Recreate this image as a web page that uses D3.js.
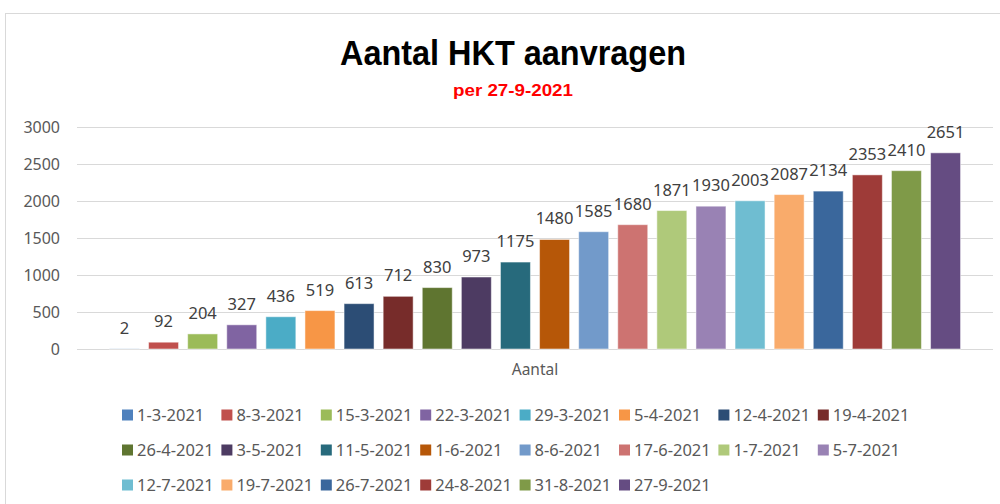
<!DOCTYPE html>
<html><head><meta charset="utf-8">
<script src="https://cdn.jsdelivr.net/npm/d3@7"></script>
<style>html,body{margin:0;padding:0;background:#fff;overflow:hidden}</style>
</head><body>
<svg id="c" width="1000" height="504"></svg>
<script>
const categories = ["Aantal"];
const seriesNames = ["1-3-2021","8-3-2021","15-3-2021","22-3-2021","29-3-2021","5-4-2021","12-4-2021","19-4-2021",
  "26-4-2021","3-5-2021","11-5-2021","1-6-2021","8-6-2021","17-6-2021","1-7-2021","5-7-2021",
  "12-7-2021","19-7-2021","26-7-2021","24-8-2021","31-8-2021","27-9-2021"];
const seriesValues = [2,92,204,327,436,519,613,712,830,973,1175,1480,1585,1680,1871,1930,2003,2087,2134,2353,2410,2651];
const seriesColors = ["#4F81BD","#C0504D","#9BBB59","#8064A2","#4BACC6","#F79646","#2C4D75","#772C2A",
  "#5F7530","#4D3B62","#276A7C","#B65708","#729ACA","#CD7371","#AFC97A","#9982B4",
  "#6FBDD1","#F9AB6B","#3A679C","#9E3B38","#7F9A48","#654C82"];
const yTicks = [0,500,1000,1500,2000,2500,3000];
const titleText = "Aantal HKT aanvragen";
const subtitleText = "per 27-9-2021";

const svg = d3.select("#c");
const font = "'Noto Sans', 'Open Sans', sans-serif";
const narrow = "'Liberation Sans Narrow', 'Liberation Sans', sans-serif";

// chart frame
svg.append("rect").attr("x",5.5).attr("y",13.5).attr("width",1000).attr("height",600)
  .attr("fill","#fff").attr("stroke","#d9d9d9");

// title
const t = svg.append("text").attr("x",513).attr("y",65).attr("text-anchor","middle")
  .attr("font-family",narrow).attr("font-weight","bold").attr("font-size",35).attr("fill","#000").text(titleText);
const tw = t.node().getComputedTextLength();
if (Math.abs(tw-346) > 10) t.attr("textLength",346).attr("lengthAdjust","spacingAndGlyphs");
const s = svg.append("text").attr("x",513).attr("y",96).attr("text-anchor","middle")
  .attr("font-family",narrow).attr("font-weight","bold").attr("font-size",17).attr("fill","#FF0000").text(subtitleText);
const sw = s.node().getComputedTextLength();
if (Math.abs(sw-120) > 5) s.attr("textLength",120).attr("lengthAdjust","spacingAndGlyphs");

const y = d3.scaleLinear().domain([0,3000]).range([349,127]);
const xCat = d3.scaleBand().domain(categories).range([77,993]);
const x = d3.scaleBand().domain(seriesNames).range([xCat(categories[0]), xCat(categories[0])+xCat.bandwidth()])
  .paddingInner(0.233).paddingOuter(0.83);

// gridlines
svg.append("g").selectAll("line").data(yTicks).join("line")
  .attr("x1",77).attr("x2",993).attr("y1",d=>Math.round(y(d))+0.5).attr("y2",d=>Math.round(y(d))+0.5)
  .attr("stroke","#d9d9d9").attr("stroke-width",1);

// y axis
const yAxis = d3.axisLeft(y).tickValues(yTicks).tickFormat(d3.format("d")).tickSize(0).tickPadding(0);
const ga = svg.append("g").attr("transform","translate(60,0)").call(yAxis);
ga.select(".domain").remove();
ga.selectAll("text").attr("font-family",font).attr("font-size",16).attr("fill","#595959");

// x axis category label
const xAxis = d3.axisBottom(xCat).tickSize(0).tickPadding(0);
const gx = svg.append("g").attr("transform","translate(0,364)").call(xAxis);
gx.select(".domain").remove();
gx.selectAll("text").attr("font-family",font).attr("font-size",15.5).attr("fill","#595959").attr("dy","0.71em");

// bars
const data = seriesNames.map((n,i)=>({name:n,value:seriesValues[i],color:seriesColors[i]}));
svg.append("g").selectAll("rect").data(data).join("rect")
  .attr("x",d=>x(d.name)).attr("width",x.bandwidth())
  .attr("y",d=>y(d.value)).attr("height",d=>y(0)-y(d.value))
  .attr("fill",d=>d.color).attr("stroke","#ffffff").attr("stroke-opacity",0.5).attr("stroke-width",1);

// labels
svg.append("g").selectAll("text").data(data).join("text")
  .attr("x",d=>x(d.name)+x.bandwidth()/2).attr("y",d=>y(d.value)-15)
  .attr("text-anchor","middle").attr("font-family",font).attr("font-size",16.5).attr("fill","#404040")
  .text(d=>d.value);

// legend
const cols = 8, colW = 99.4, lx0 = 122, ly0 = 415, rowH = 35;
const lg = svg.append("g").selectAll("g").data(data).join("g")
  .attr("transform",(d,i)=>`translate(${lx0 + (i%cols)*colW},${ly0 + Math.floor(i/cols)*rowH})`);
lg.append("rect").attr("x",0).attr("y",-5.5).attr("width",11).attr("height",11).attr("fill",d=>d.color);
lg.append("text").attr("x",15).attr("y",0).attr("dy","0.35em").attr("font-family",font).attr("font-size",16.5)
  .attr("fill","#595959").text(d=>d.name);
</script>
</body></html>
